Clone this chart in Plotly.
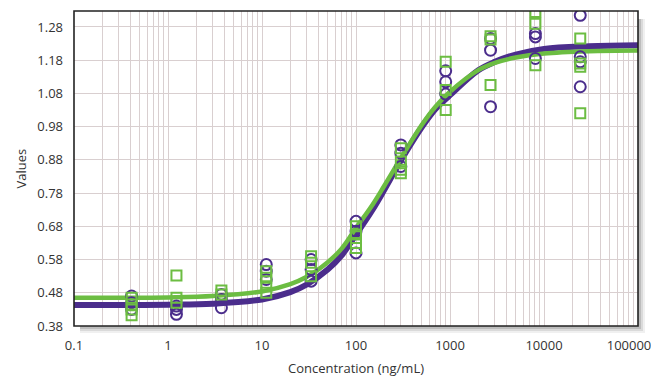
import plotly.graph_objects as go

# ---- data ----
conc = [0.41, 1.23, 3.7, 11.1, 33.3, 100, 300, 900, 2700, 8100, 24300]
purple_reps = [
    [0.470, 0.450, 0.430],
    [0.440, 0.430, 0.415],
    [0.475, 0.460, 0.435],
    [0.565, 0.545, 0.520],
    [0.580, 0.550, 0.515],
    [0.695, 0.665, 0.600],
    [0.925, 0.900, 0.860],
    [1.148, 1.115, 1.078],
    [1.245, 1.210, 1.040],
    [1.260, 1.250, 1.185],
    [1.315, 1.190, 1.175, 1.100],
]
green_reps = [
    [0.465, 0.445, 0.430, 0.412],
    [0.532, 0.465, 0.450],
    [0.487, 0.475],
    [0.545, 0.525, 0.500, 0.480],
    [0.590, 0.570, 0.530],
    [0.680, 0.655, 0.630, 0.615],
    [0.915, 0.875, 0.850, 0.840],
    [1.175, 1.090, 1.030],
    [1.252, 1.242, 1.105],
    [1.325, 1.290, 1.165],
    [1.245, 1.170, 1.160, 1.020],
]
curve_conc = [0.1, 0.3, 1, 3, 10, 20, 30, 50, 70, 100, 150, 200, 300, 500, 700,
              1000, 2000, 3000, 5000, 10000, 30000, 100000]
green_curve = [0.465, 0.465, 0.466, 0.470, 0.484, 0.506, 0.528, 0.572, 0.612, 0.675,
               0.745, 0.802, 0.885, 0.985, 1.040, 1.085, 1.150, 1.172, 1.188, 1.200,
               1.207, 1.209]
purple_curve = [0.443, 0.443, 0.444, 0.447, 0.460, 0.482, 0.505, 0.550, 0.592, 0.655,
                0.730, 0.790, 0.878, 0.978, 1.033, 1.075, 1.150, 1.175, 1.197, 1.214,
                1.222, 1.225]
x_tickvals = [0.1, 1, 10, 100, 1000, 10000]
x_ticktext = ["0.1", "1", "10", "100", "1000", "10000"]
x_last_tickval = [100000]
x_last_ticktext = ["100000"]
y_tickvals = [0.38, 0.48, 0.58, 0.68, 0.78, 0.88, 0.98, 1.08, 1.18, 1.28]
x_minor = [m * 10 ** e for e in range(-1, 5) for m in range(2, 10)]

PURPLE = "#4b2d8c"
GREEN = "#6cbd42"
GRID = "#d9cfd0"
FONT = "Open Sans"
PW, PH = 564, 315


def flatten(reps):
    xs, ys = [], []
    for c, vals in zip(conc, reps):
        for v in vals:
            xs.append(c)
            ys.append(v)
    return xs, ys


fig = go.Figure()
fig.add_trace(go.Scatter(x=curve_conc, y=purple_curve, mode="lines",
                         line=dict(color=PURPLE, width=6, shape="spline"),
                         hoverinfo="skip", showlegend=False))
fig.add_trace(go.Scatter(x=curve_conc, y=green_curve, mode="lines",
                         line=dict(color=GREEN, width=4.5, shape="spline"),
                         hoverinfo="skip", showlegend=False))
px_, py_ = flatten(purple_reps)
fig.add_trace(go.Scatter(x=px_, y=py_, mode="markers",
                         marker=dict(symbol="circle-open", size=11,
                                     line=dict(color=PURPLE, width=2), color=PURPLE),
                         showlegend=False))
gx, gy = flatten(green_reps)
fig.add_trace(go.Scatter(x=gx, y=gy, mode="markers",
                         marker=dict(symbol="square-open", size=10,
                                     line=dict(color=GREEN, width=2), color=GREEN),
                         showlegend=False))
# carrier trace for the overlay axis that holds the last tick label
fig.add_trace(go.Scatter(x=x_last_tickval, y=[None], xaxis="x2", mode="markers",
                         hoverinfo="skip", showlegend=False))

# plot frame shadow (strips outside right/bottom) + frame
shapes = []
for d, op in [(7, 0.06), (5, 0.09), (3, 0.13)]:
    shapes.append(dict(type="rect", xref="paper", yref="paper",
                       x0=1, x1=1 + d / PW, y0=-d / PH, y1=1 - 8 / PH,
                       fillcolor=f"rgba(0,0,0,{op})", line=dict(width=0), layer="below"))
    shapes.append(dict(type="rect", xref="paper", yref="paper",
                       x0=6 / PW, x1=1, y0=-d / PH, y1=0,
                       fillcolor=f"rgba(0,0,0,{op})", line=dict(width=0), layer="below"))
shapes.append(dict(type="rect", xref="paper", yref="paper", x0=0, x1=1, y0=0, y1=1,
                   line=dict(color="#222222", width=1.6), layer="above"))

# the page body adds an 8px margin, so the figure is 8px smaller
fig.update_layout(
    width=651, height=373,
    margin=dict(l=66, r=21, t=3, b=55),
    paper_bgcolor="white", plot_bgcolor="white",
    font=dict(family=FONT, size=13, color="#333333"),
    shapes=shapes,
    xaxis=dict(type="log", range=[-1.0, 5.0],
               tickvals=x_tickvals, ticktext=x_ticktext,
               showgrid=True, gridcolor=GRID, gridwidth=1.3,
               minor=dict(tickvals=x_minor, showgrid=True, gridcolor=GRID, gridwidth=1.3,
                          ticks=""),
               ticks="", ticklabelstandoff=10, zeroline=False, showline=False,
               tickfont=dict(size=13, color="#333333"),
               title=dict(text="Concentration (ng/mL)", standoff=10,
                          font=dict(size=13, color="#333333"))),
    xaxis2=dict(type="log", range=[-1.0, 5.0], overlaying="x", side="bottom",
                anchor="y", tickvals=x_last_tickval, ticktext=x_last_ticktext,
                ticklabelshift=-9, ticklabelstandoff=10, ticks="",
                showgrid=False, zeroline=False, showline=False,
                ticklabeloverflow="allow",
                tickfont=dict(size=13, color="#333333")),
    yaxis=dict(range=[0.38, 1.328], tickvals=y_tickvals,
               ticktext=[f"{v:.2f}" for v in y_tickvals],
               showgrid=True, gridcolor=GRID, gridwidth=1.3,
               ticks="", ticklabelstandoff=10, zeroline=False, showline=False,
               tickfont=dict(size=13, color="#333333")),
    annotations=[dict(text="Values", xref="paper", yref="paper", x=0, y=0.5,
                      xanchor="center", yanchor="middle", xshift=-54, textangle=-90,
                      showarrow=False, font=dict(size=13, color="#333333"))],
)

fig.write_html("out.html")
